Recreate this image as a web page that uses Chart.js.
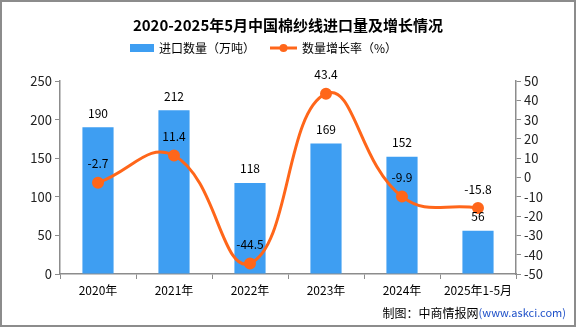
<!DOCTYPE html>
<html>
<head>
<meta charset="utf-8">
<script src="https://cdn.jsdelivr.net/npm/chart.js@4"></script>
<style>
  html, body { margin: 0; padding: 0; background: #fff; }
  #wrap { width: 576px; height: 327px; position: relative; }
</style>
</head>
<body>
<div id="wrap"><canvas id="c" width="576" height="327"></canvas></div>
<script>
// chart data
const categories = ['2020年', '2021年', '2022年', '2023年', '2024年', '2025年1-5月'];
const importVolume = [190, 212, 118, 169, 152, 56];      // 万吨
const growthRate = [-2.7, 11.4, -44.5, 43.4, -9.9, -15.8]; // %
const leftTicks = [0, 50, 100, 150, 200, 250];
const rightTicks = [-50, -40, -30, -20, -10, 0, 10, 20, 30, 40, 50];

const BAR = '#3e9ef2';
const LINE = '#ff661a';
const FONT = '"Noto Sans CJK SC", "DejaVu Sans", sans-serif';

// title, legend, value labels, source and frame
const decor = {
  id: 'decor',
  afterDatasetsDraw(chart) {
    const ctx = chart.ctx;
    ctx.save();
    ctx.textAlign = 'center';
    ctx.textBaseline = 'middle';
    ctx.fillStyle = '#000';
    ctx.font = '12px ' + FONT;
    const bars = chart.getDatasetMeta(0).data;
    bars.forEach((b, i) => ctx.fillText(String(importVolume[i]), b.x, b.y - 14));
    const pts = chart.getDatasetMeta(1).data;
    pts.forEach((p, i) => ctx.fillText(String(growthRate[i]), p.x, p.y - 19));
    ctx.restore();
  },
  afterDraw(chart) {
    const ctx = chart.ctx;
    ctx.save();
    // title
    ctx.fillStyle = '#000';
    ctx.textAlign = 'center';
    ctx.textBaseline = 'middle';
    ctx.font = 'bold 15px ' + FONT;
    ctx.fillText('2020-2025年5月中国棉纱线进口量及增长情况', 288, 25);
    // legend
    ctx.font = '12px ' + FONT;
    ctx.textAlign = 'left';
    ctx.fillStyle = BAR;
    ctx.fillRect(130, 44, 24, 8);
    ctx.fillStyle = '#000';
    ctx.fillText('进口数量（万吨）', 159, 48);
    ctx.strokeStyle = LINE;
    ctx.lineWidth = 3;
    ctx.beginPath(); ctx.moveTo(270, 48); ctx.lineTo(297, 48); ctx.stroke();
    ctx.fillStyle = LINE;
    ctx.beginPath(); ctx.arc(283.5, 48, 4, 0, Math.PI * 2); ctx.fill();
    ctx.fillStyle = '#000';
    ctx.fillText('数量增长率（%）', 302, 48);
    // source
    ctx.textAlign = 'right';
    ctx.font = '11px ' + FONT;
    ctx.fillStyle = '#1e50c8';
    const src = '(www.askci.com)';
    ctx.fillText(src, 566, 313);
    const w = ctx.measureText(src).width;
    ctx.font = '12px ' + FONT;
    ctx.fillStyle = '#000';
    ctx.fillText('制图：中商情报网', 566 - w, 313);
    // frame
    ctx.strokeStyle = '#8c8c8c';
    ctx.lineWidth = 2;
    ctx.strokeRect(1, 1, 574, 325);
    ctx.restore();
  }
};

new Chart(document.getElementById('c'), {
  data: {
    labels: categories,
    datasets: [
      {
        type: 'bar', label: '进口数量（万吨）', data: importVolume, yAxisID: 'y',
        backgroundColor: BAR, barPercentage: 0.41, categoryPercentage: 1, order: 2
      },
      {
        type: 'line', label: '数量增长率（%）', data: growthRate, yAxisID: 'y1',
        borderColor: LINE, backgroundColor: LINE, borderWidth: 3, tension: 0.45,
        pointRadius: 4.5, pointHoverRadius: 4.5, order: 1
      }
    ]
  },
  options: {
    responsive: false,
    animation: false,
    layout: { padding: { top: 81, bottom: 0, left: 0, right: 0 } },
    plugins: { legend: { display: false }, title: { display: false }, tooltip: { enabled: false } },
    scales: {
      x: {
        grid: { display: true, drawOnChartArea: false, offset: true, color: '#8c8c8c', tickLength: 5 },
        border: { color: '#8c8c8c', width: 1.5 },
        ticks: { color: '#000', font: { size: 12, family: FONT }, padding: 4 },
        afterFit(s) { s.height = 53; }
      },
      y: {
        position: 'left', min: 0, max: 250,
        afterBuildTicks(s) { s.ticks = leftTicks.map(v => ({ value: v })); },
        grid: { drawOnChartArea: false, color: '#8c8c8c', tickLength: 5 },
        border: { color: '#8c8c8c', width: 1.5 },
        ticks: { color: '#222', font: { size: 13, family: FONT }, padding: 3 },
        afterFit(s) { s.width = 60; }
      },
      y1: {
        position: 'right', min: -50, max: 50,
        afterBuildTicks(s) { s.ticks = rightTicks.map(v => ({ value: v })); },
        grid: { drawOnChartArea: false, color: '#8c8c8c', tickLength: 5 },
        border: { color: '#8c8c8c', width: 1.5 },
        ticks: { color: '#222', font: { size: 13, family: FONT }, padding: 3 },
        afterFit(s) { s.width = 60; }
      }
    }
  },
  plugins: [decor]
});
</script>
</body>
</html>
